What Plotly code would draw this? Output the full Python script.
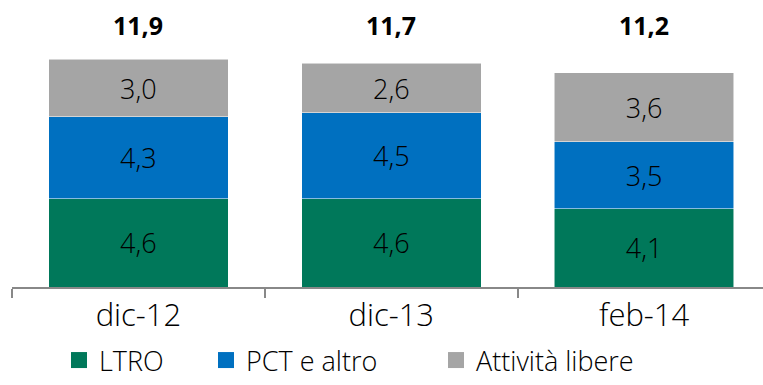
import plotly.graph_objects as go

# Categories and series values (billions)
categories = ["dic-12", "dic-13", "feb-14"]
ltro = [4.6, 4.6, 4.1]
pct_altro = [4.3, 4.5, 3.5]
attivita_libere = [3.0, 2.6, 3.6]
totals = [11.9, 11.7, 11.2]

series = [
    ("LTRO", ltro, "#00785A"),
    ("PCT e altro", pct_altro, "#0070C0"),
    ("Attività libere", attivita_libere, "#A5A5A5"),
]

FONT = "Open Sans"
# one legend box per series so each entry sits at its own horizontal spot
legend_ids = ["legend", "legend2", "legend3"]
legend_x = [0.0626, 0.2583, 0.5646]


def fmt(v):
    return f"{v:.1f}".replace(".", ",")


fig = go.Figure()

for name, vals, color in series:
    fig.add_trace(go.Bar(
        x=categories,
        y=vals,
        name=name,
        marker=dict(color=color, line=dict(color="rgba(255,255,255,0.7)", width=0.75)),
        text=[fmt(v) for v in vals],
        textposition="inside",
        insidetextanchor="middle",
        textfont=dict(family=FONT, size=27, color="black", weight=300),
        width=0.71,
        showlegend=False,
        hoverinfo="skip",
    ))

# Legend entries with larger square swatches
for (name, vals, color), lid in zip(series, legend_ids):
    fig.add_trace(go.Scatter(
        x=[None], y=[None], mode="markers", name=name,
        marker=dict(symbol="square", size=18, color=color),
        showlegend=True, legend=lid,
    ))

# Bold totals above each column
for cat, tot in zip(categories, totals):
    fig.add_annotation(
        x=cat, y=13.7, text=f"<b>{fmt(tot)}</b>", showarrow=False,
        font=dict(family=FONT, size=25, color="black"),
        xanchor="center", yanchor="middle",
    )

# legends sit on the bottom edge of the page
legend_style = dict(
    orientation="h", xanchor="left", yref="container", y=0, yanchor="bottom",
    font=dict(family=FONT, size=27, color="black", weight=300),
    itemwidth=30, bgcolor="rgba(0,0,0,0)",
)

fig.update_layout(
    barmode="stack",
    width=763, height=385,
    margin=dict(l=12, r=0, t=0, b=98, autoexpand=False),
    paper_bgcolor="white",
    plot_bgcolor="white",
    font=dict(family=FONT, color="black"),
    uniformtext=dict(mode=False),
    xaxis=dict(
        type="category",
        range=[-0.5, 2.47],
        showline=True, linecolor="#888888", linewidth=1.5,
        ticks="outside", tickson="boundaries", ticklen=9,
        tickcolor="#888888", tickwidth=1.5,
        tickfont=dict(family=FONT, size=31, color="black", weight=300),
        showgrid=False, zeroline=False,
    ),
    yaxis=dict(
        range=[0, 15], visible=False, showgrid=False, zeroline=False,
    ),
)
fig.update_layout({lid: dict(legend_style, x=lx) for lid, lx in zip(legend_ids, legend_x)})

fig.write_html("out.html")
